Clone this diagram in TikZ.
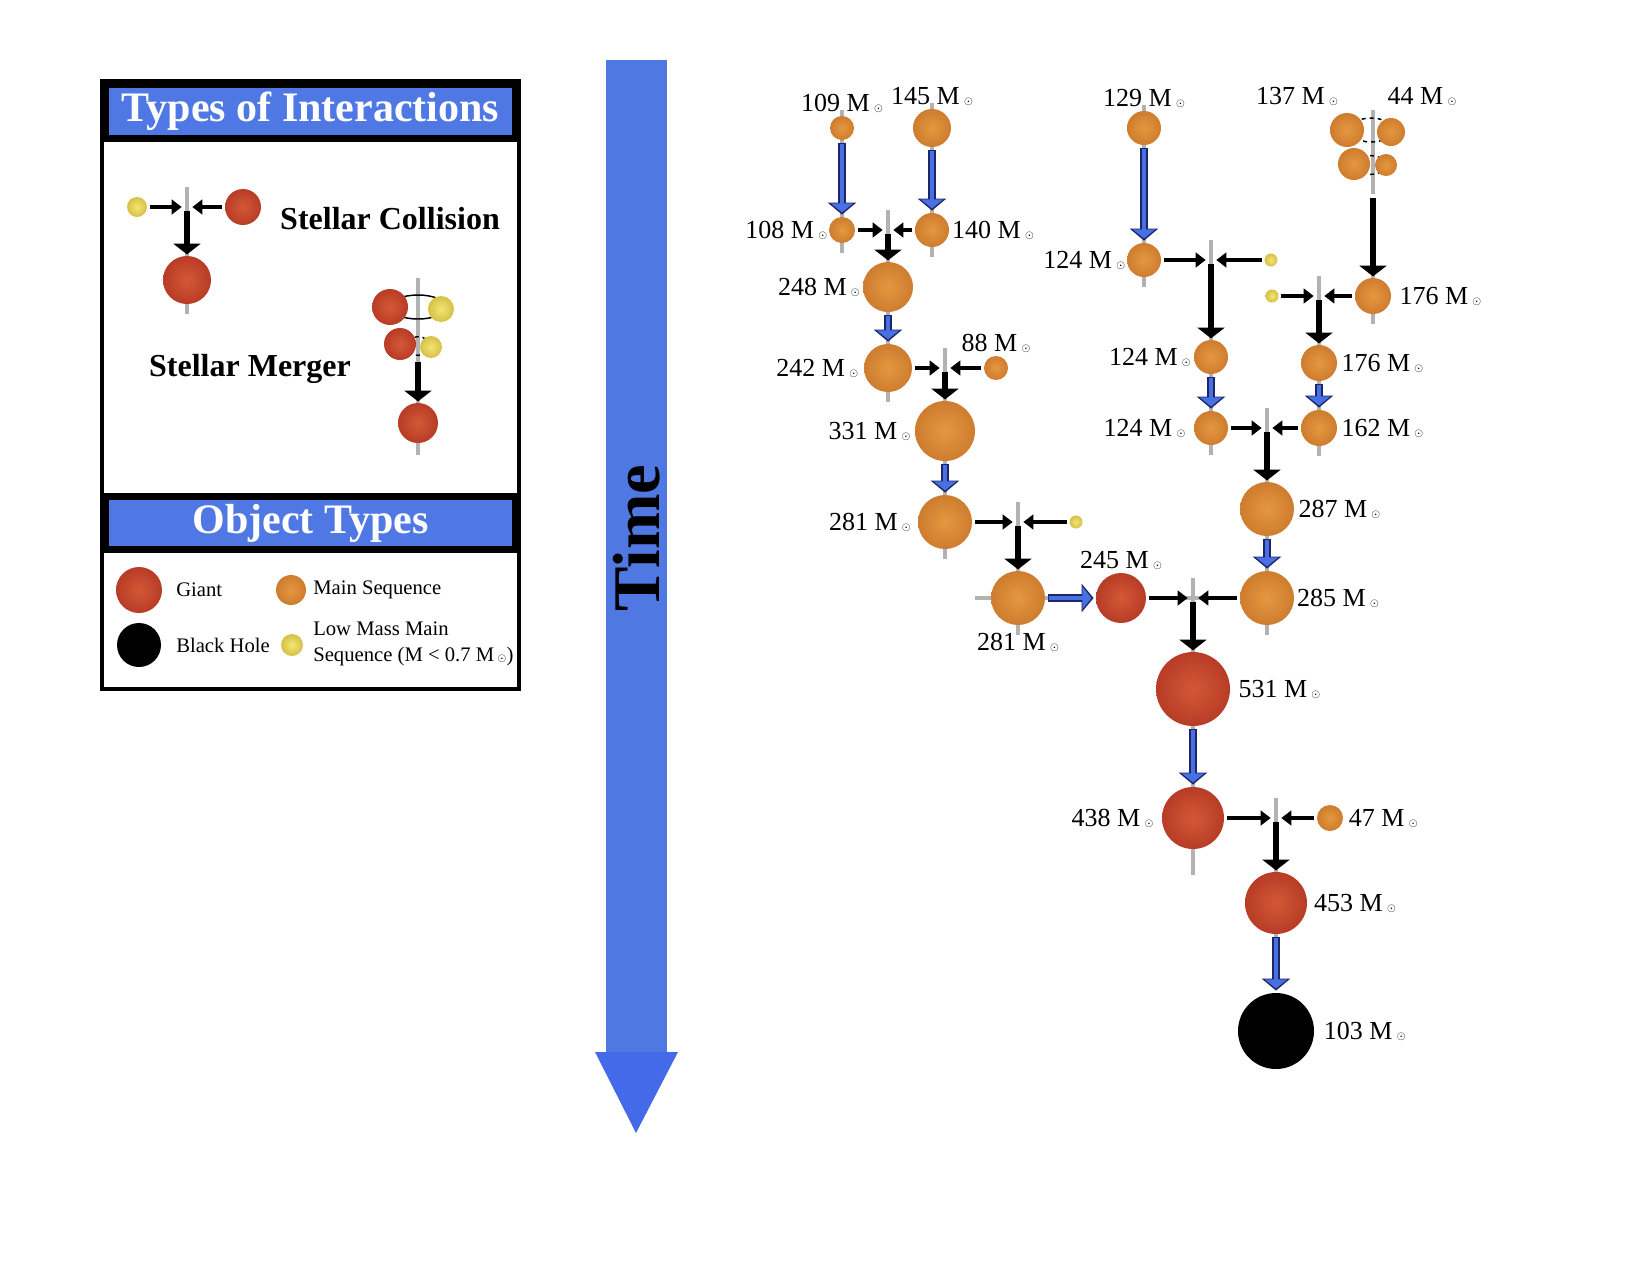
\documentclass[tikz,border=0pt]{standalone}
\usepackage{fontspec}
\setmainfont{Liberation Serif}
\usetikzlibrary{arrows.meta,positioning,backgrounds}

\definecolor{msin}{RGB}{228,152,64}
\definecolor{msout}{RGB}{206,124,46}
\definecolor{gtin}{RGB}{212,88,54}
\definecolor{gtout}{RGB}{184,60,38}
\definecolor{lmin}{RGB}{242,230,112}
\definecolor{lmout}{RGB}{214,192,72}
\definecolor{bandblue}{RGB}{80,120,228}
\definecolor{timeblue}{RGB}{80,120,226}
\definecolor{headblue}{RGB}{68,106,234}
\definecolor{evblue}{RGB}{72,112,226}
\definecolor{evnavy}{RGB}{28,38,105}
\definecolor{trackgray}{RGB}{178,178,178}

\newcommand{\msun}{\,{\fontsize{8.5}{9}\selectfont$\odot$}}

\tikzset{
  body/.style={circle, inner sep=0pt, minimum size=#1*0.75pt},
  ms/.style={body=#1, shade, inner color=msin, outer color=msout},
  giant/.style={body=#1, shade, inner color=gtin, outer color=gtout},
  lowms/.style={body=#1, shade, inner color=lmin, outer color=lmout},
  bh/.style={body=#1, fill=black},
  mass/.style={font=\fontsize{19.5}{22}\selectfont, inner sep=0pt},
  keytext/.style={font=\fontsize{15.5}{19.5}\selectfont, inner sep=0pt, anchor=west, align=left},
  bigbold/.style={font=\bfseries\fontsize{24}{28}\selectfont},
  band/.style={draw=black, fill=bandblue, line width=5.25pt, minimum width=307.5pt, text=white, font=\bfseries\fontsize{31.5}{34}\selectfont},
  track/.style={trackgray, line width=2.6pt},
  orbit/.style={black, line width=1.1pt},
  collide/.style={draw=black, line width=3.6pt, -{Triangle[width=11pt,length=7.5pt]}, shorten <=2pt, shorten >=4pt},
  merge/.style={draw=black, line width=4.5pt, -{Triangle[width=20pt,length=8pt]}, shorten <=3pt, shorten >=1pt},
  evolve/.style={draw=evblue, line width=3.6pt, -{Triangle[width=16.5pt,length=6.8pt]}, shorten <=3pt, shorten >=3.2pt,
    preaction={draw=evnavy, line width=6pt, -{Triangle[width=21pt,length=9pt]}, shorten <=2pt, shorten >=1.6pt}},
}

\begin{document}
\begin{tikzpicture}[x=0.75pt,y=-0.75pt]
\useasboundingbox (0,0) rectangle (1650,1275);

% legend
\draw[line width=2.6pt] (102,81) rectangle (519,689);
\node[band, minimum height=40.5pt] (inttitle) at (310.5,111.5) {Types of Interactions};
\node[band, minimum height=39.75pt] (objtitle) at (310.5,523) {Object Types};

% stellar collision
\coordinate (cj) at (187,207);
\node[lowms=20] (cy) at (137,207) {};
\node[giant=36] (cr) at (243,207) {};
\node[giant=48] (cout) at (187,280) {};
\node[bigbold] (coltext) at (390,219) {Stellar Collision};

% stellar merger
\coordinate (mj) at (418,358);
\draw[orbit] (418,307) ellipse [x radius=21pt, y radius=9pt];
\draw[orbit, dashed] (418,346) ellipse [x radius=9pt, y radius=7pt];
\node[giant=36] (mr1) at (390,307) {};
\node[lowms=26] (my1) at (441,309) {};
\node[giant=32] (mr2) at (400,344) {};
\node[lowms=22] (my2) at (431,347) {};
\node[giant=40] (mout) at (418,423) {};
\node[bigbold] (mertext) at (250,369) {Stellar Merger};

% object types
\node[giant=46] (kg) at (139,590) {};
\node[keytext] (kgt) at (176,590) {Giant};
\node[ms=30] (kms) at (291,590) {};
\node[keytext] (kmst) at (313,590) {Main Sequence};
\node[bh=44] (kbh) at (139,645) {};
\node[keytext] (kbht) at (176,645) {Black Hole};
\node[lowms=22] (kly) at (292,645) {};
\node[keytext] (klyt) at (313,644) {Low Mass Main\\Sequence (M < 0.7 M\msun)};

% time arrow
\fill[timeblue] (606,60) rectangle (667,1052);
\fill[headblue] (595,1052) -- (678,1052) -- (636,1133) -- cycle;
\node[rotate=90, font=\bfseries\fontsize{50}{56}\selectfont] (timetext) at (637,538) {Time};

% left branch
\node[ms=24] (n109) at (842,128) {};
\node[ms=38] (n145) at (932,128) {};
\node[ms=26] (n108) at (842,230) {};
\node[ms=34] (n140) at (932,230) {};
\coordinate (j1) at (888,230);
\node[ms=50] (n248) at (888,287) {};
\node[ms=48] (n242) at (888,368) {};
\coordinate (j2) at (945,368);
\node[ms=24] (n88) at (996,368) {};
\node[ms=60] (n331) at (945,431) {};
\node[ms=54] (n281a) at (945,522) {};
\coordinate (j3) at (1018,522);
\node[lowms=13] (ly1) at (1076,522) {};
\node[ms=54] (n281b) at (1018,598) {};
\node[giant=50] (n245) at (1121,598) {};
\coordinate (j4) at (1193,598);
\node[ms=54] (n285) at (1267,598) {};
\node[giant=74] (n531) at (1193,689) {};
\node[giant=62] (n438) at (1193,818) {};
\coordinate (j5) at (1276,818);
\node[ms=26] (n47) at (1330,818) {};
\node[giant=62] (n453) at (1276,903) {};
\node[bh=76] (n103) at (1276,1031) {};

% right branch
\node[ms=34] (n129) at (1144,128) {};
\node[ms=34] (n124a) at (1144,260) {};
\coordinate (j6) at (1211,260);
\node[lowms=13] (ly2) at (1271,260) {};
\node[ms=34] (n124b) at (1211,357) {};
\node[ms=34] (n124c) at (1211,428) {};
\coordinate (j8) at (1267,428);
\node[ms=54] (n287) at (1267,509) {};
\draw[orbit, dashed] (1371,130) ellipse [x radius=16pt, y radius=9pt];
\draw[orbit, dashed] (1371,165) ellipse [x radius=11pt, y radius=7pt];
\node[ms=34] (m137) at (1347,130) {};
\node[ms=28] (m44) at (1391,132) {};
\node[ms=32] (m137b) at (1354,164) {};
\node[ms=22] (m44b) at (1386,165) {};
\coordinate (pair) at (1373,194);
\node[ms=36] (n176a) at (1373,296) {};
\coordinate (j7) at (1319,296);
\node[lowms=13] (ly3) at (1272,296) {};
\node[ms=36] (n176b) at (1319,363) {};
\node[ms=36] (n162) at (1319,428) {};

% masses
\node[mass, above=2pt of n109] (t109) {109 M\msun};
\node[mass, above=2pt of n145] (t145) {145 M\msun};
\node[mass, left=1pt of n108] (t108) {108 M\msun};
\node[mass, right=2pt of n140] (t140) {140 M\msun};
\node[mass, left=2pt of n248] (t248) {248 M\msun};
\node[mass, left=4pt of n242] (t242) {242 M\msun};
\node[mass, above=2pt of n88] (t88) {88 M\msun};
\node[mass, left=3pt of n331] (t331) {331 M\msun};
\node[mass, left=5pt of n281a] (t281a) {281 M\msun};
\node[mass, below=6pt of n281b] (t281b) {281 M\msun};
\node[mass, above=2pt of n245] (t245) {245 M\msun};
\node[mass, right=2pt of n285] (t285) {285 M\msun};
\node[mass, right=6pt of n531] (t531) {531 M\msun};
\node[mass, left=6pt of n438] (t438) {438 M\msun};
\node[mass, right=4pt of n47] (t47) {47 M\msun};
\node[mass, right=5pt of n453] (t453) {453 M\msun};
\node[mass, right=7pt of n103] (t103) {103 M\msun};
\node[mass, above=2pt of n129] (t129) {129 M\msun};
\node[mass, left=1pt of n124a] (t124a) {124 M\msun};
\node[mass, left=2pt of n124b] (t124b) {124 M\msun};
\node[mass, left=6pt of n124c] (t124c) {124 M\msun};
\node[mass, right=3pt of n162] (t162) {162 M\msun};
\node[mass, right=3pt of n287] (t287) {287 M\msun};
\node[mass] (t137) at (1297,96) {137 M\msun};
\node[mass] (t44) at (1422,96) {44 M\msun};
\node[mass, right=6pt of n176a] (t176a) {176 M\msun};
\node[mass, right=3pt of n176b] (t176b) {176 M\msun};

% time lines
\begin{scope}[on background layer]
  \foreach \s in {n109,n145,n108,n140,n248,n242,n331,n281a,n281b,n285,n531,n438,n453,
                  n129,n124a,n124b,n124c,n287,n176a,n176b,n162,cout}
    \draw[track] ([yshift=4.5pt]\s.north) -- ([yshift=-7.5pt]\s.south);
  \foreach \j in {j1,j2,j3,j4,j5,j6,j7,j8,cj}
    \draw[track] ([yshift=15pt]\j) -- ([yshift=-24pt]\j);
  \draw[track] ([xshift=-12pt]n281b.west) -- ([xshift=4pt]n281b.east);
  \draw[track] ([xshift=-11pt]j4) -- ([xshift=11pt]j4);
  \draw[track] (n438.south) -- ++(0,26);
  \draw[track] (1373,110) -- (pair);
  \draw[track] (418,278) -- (418,455);
\end{scope}

\path
  (cy) edge[collide] (cj)
  (cr) edge[collide] (cj)
  (cj) edge[merge] (cout)
  (mj) edge[merge] (mout)
  (n109) edge[evolve] (n108)
  (n145) edge[evolve] (n140)
  (n108) edge[collide] (j1)
  (n140) edge[collide] (j1)
  (j1) edge[merge] (n248)
  (n248) edge[evolve] (n242)
  (n242) edge[collide] (j2)
  (n88) edge[collide] (j2)
  (j2) edge[merge] (n331)
  (n331) edge[evolve] (n281a)
  (n281a) edge[collide] (j3)
  (ly1) edge[collide] (j3)
  (j3) edge[merge] (n281b)
  (n281b) edge[evolve] (n245)
  (n245) edge[collide] (j4)
  (n285) edge[collide] (j4)
  (j4) edge[merge] (n531)
  (n531) edge[evolve] (n438)
  (n438) edge[collide] (j5)
  (n47) edge[collide] (j5)
  (j5) edge[merge] (n453)
  (n453) edge[evolve] (n103)
  (n129) edge[evolve] (n124a)
  (n124a) edge[collide] (j6)
  (ly2) edge[collide] (j6)
  (j6) edge[merge] (n124b)
  (n124b) edge[evolve] (n124c)
  (n124c) edge[collide] (j8)
  (n162) edge[collide] (j8)
  (j8) edge[merge] (n287)
  (n287) edge[evolve] (n285)
  (pair) edge[merge] (n176a)
  (ly3) edge[collide] (j7)
  (n176a) edge[collide] (j7)
  (j7) edge[merge] (n176b)
  (n176b) edge[evolve] (n162);

\end{tikzpicture}
\end{document}
